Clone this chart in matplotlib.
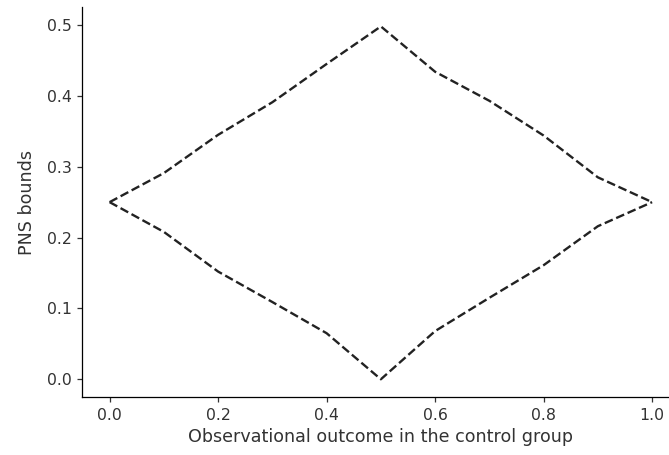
import matplotlib
matplotlib.use("Agg")
import matplotlib.pyplot as plt

# Observational outcome in the control group
p_control = [0.0, 0.1, 0.2, 0.3, 0.4, 0.5, 0.6, 0.7, 0.8, 0.9, 1.0]

# PNS bounds
pns_upper = [0.25, 0.291, 0.345, 0.391, 0.445, 0.498, 0.434, 0.393, 0.344, 0.285, 0.25]
pns_lower = [0.25, 0.208, 0.152, 0.109, 0.065, 0.0, 0.068, 0.115, 0.161, 0.216, 0.25]

DPI = 113

def main():
  fig = plt.figure(figsize=(669/DPI, 455/DPI), dpi=DPI)
  # axes run past the right edge, like the cropped original
  ax = fig.add_axes([0.1233, 0.1275, 0.892, 0.8565])

  ax.plot(p_control, pns_upper, "--", color="#222222", lw=1.5)
  ax.plot(p_control, pns_lower, "--", color="#222222", lw=1.5)

  ax.set_xlim(-0.05, 1.05)
  ax.set_ylim(-0.025, 0.525)
  ax.set_xticks([0.0, 0.2, 0.4, 0.6, 0.8, 1.0])
  ax.set_yticks([0.0, 0.1, 0.2, 0.3, 0.4, 0.5])
  ax.spines["top"].set_visible(False)
  ax.spines["right"].set_visible(False)
  ax.tick_params(colors="#333333", labelcolor="#333333")

  ax.set_xlabel("Observational outcome in the control group", color="#333333",
                fontsize=11.2, labelpad=3)
  ax.set_ylabel("PNS bounds", color="#333333", fontsize=11.2, labelpad=7)

  fig.savefig("out.png", dpi=DPI)
  plt.close(fig)

if __name__ == "__main__":
  main()
